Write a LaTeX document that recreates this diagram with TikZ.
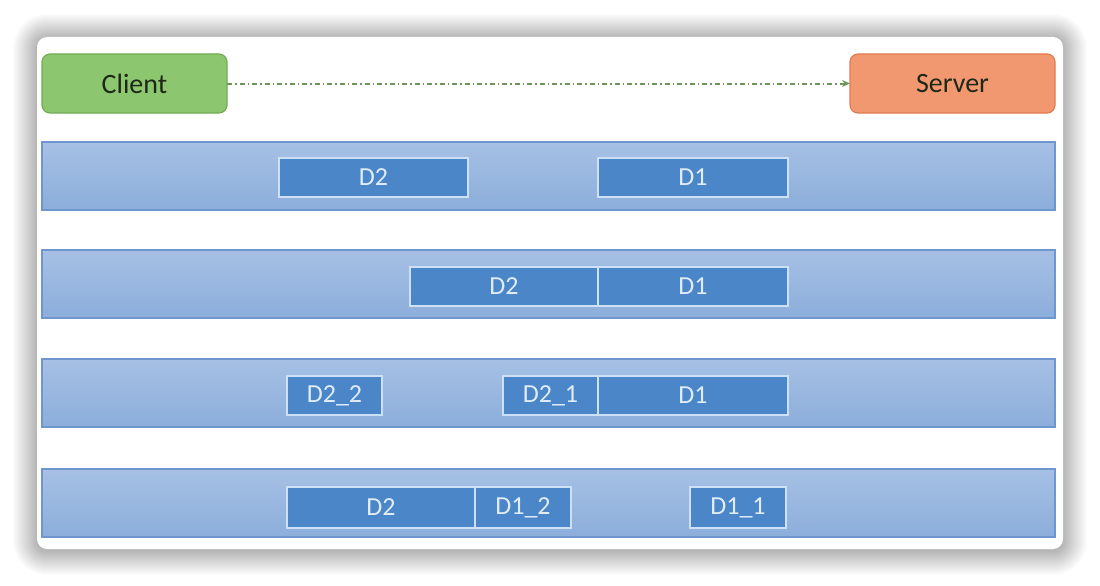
\documentclass[tikz,border=0pt]{standalone}
\usepackage{fontspec}
\setmainfont{Carlito}
\usetikzlibrary{arrows.meta}
\definecolor{clientfill}{RGB}{140,199,112}
\definecolor{clientdraw}{RGB}{112,173,84}
\definecolor{serverfill}{RGB}{242,152,112}
\definecolor{serverdraw}{RGB}{226,122,78}
\definecolor{bandtop}{RGB}{166,192,228}
\definecolor{bandbot}{RGB}{140,174,219}
\definecolor{banddraw}{RGB}{112,150,208}
\definecolor{boxfill}{RGB}{74,134,200}
\definecolor{boxdraw}{RGB}{205,224,245}
\definecolor{boxtext}{RGB}{225,236,248}
\definecolor{linkcol}{RGB}{110,150,90}
\definecolor{txtdark}{RGB}{30,40,25}
\tikzset{
  card/.style={draw=none, fill=white, rounded corners=10pt, anchor=north west,
    minimum width=1026pt, minimum height=512pt, inner sep=0pt, outer sep=0pt},
  endbox/.style={rounded corners=8pt, line width=1.2pt, anchor=north west,
    minimum height=59pt, inner sep=0pt, outer sep=0pt, font=\fontsize{28}{32}\selectfont, text=txtdark},
  clientbox/.style={endbox, fill=clientfill, draw=clientdraw, minimum width=185pt},
  serverbox/.style={endbox, fill=serverfill, draw=serverdraw, minimum width=205pt},
  band/.style={anchor=north west, minimum width=1013pt, minimum height=68pt, inner sep=0pt, outer sep=0pt,
    top color=bandtop, bottom color=bandbot, draw=banddraw, line width=1.2pt},
  dbox/.style={anchor=north west, minimum height=39pt, inner sep=0pt, outer sep=0pt,
    fill=boxfill, draw=boxdraw, line width=1.4pt, text=boxtext, font=\fontsize{26}{30}\selectfont},
  link/.style={draw=linkcol, line width=2pt, dash pattern=on 5pt off 3pt on 1.5pt off 3pt, -{Stealth[length=8pt,width=7pt]}}
}
\begin{document}
\begin{tikzpicture}[x=1pt,y=-1pt]
\fill[white] (0,0) rectangle (1100,586);
\useasboundingbox (0,0) rectangle (1100,586);
% soft shadow
\foreach \i in {1,...,24}{
  \fill[black, opacity=0.011, rounded corners={10pt+\i pt}] (37-\i,38-\i) rectangle (1063+\i,551+\i);
}
\node[card] (card) at (37,37) {};
% top
\node[clientbox] (client) at (42,54) {Client};
\node[serverbox] (server) at (850,54) {Server};
\draw[link] (client.east) -- (server.west);
% bands
\node[band] (band1) at (42,142) {};
\node[band] (band2) at (42,250) {};
\node[band] (band3) at (42,359) {};
\node[band] (band4) at (42,469) {};
% row 1
\node[dbox, minimum width=189pt] (r1d2) at (279,158) {D2};
\node[dbox, minimum width=190pt] (r1d1) at (598,158) {D1};
% row 2
\node[dbox, minimum width=188pt] (r2d2) at (410,267) {D2};
\node[dbox, minimum width=190pt] (r2d1) at (598,267) {D1};
% row 3
\node[dbox, minimum width=95pt] (r3d22) at (287,376) {D2\_2};
\node[dbox, minimum width=95pt] (r3d21) at (503,376) {D2\_1};
\node[dbox, minimum width=190pt] (r3d1) at (598,376) {D1};
% row 4
\node[dbox, minimum width=188pt, minimum height=41pt] (r4d2) at (287,487) {D2};
\node[dbox, minimum width=96pt, minimum height=41pt] (r4d12) at (475,487) {D1\_2};
\node[dbox, minimum width=96pt, minimum height=41pt] (r4d11) at (690,487) {D1\_1};
\end{tikzpicture}
\end{document}
